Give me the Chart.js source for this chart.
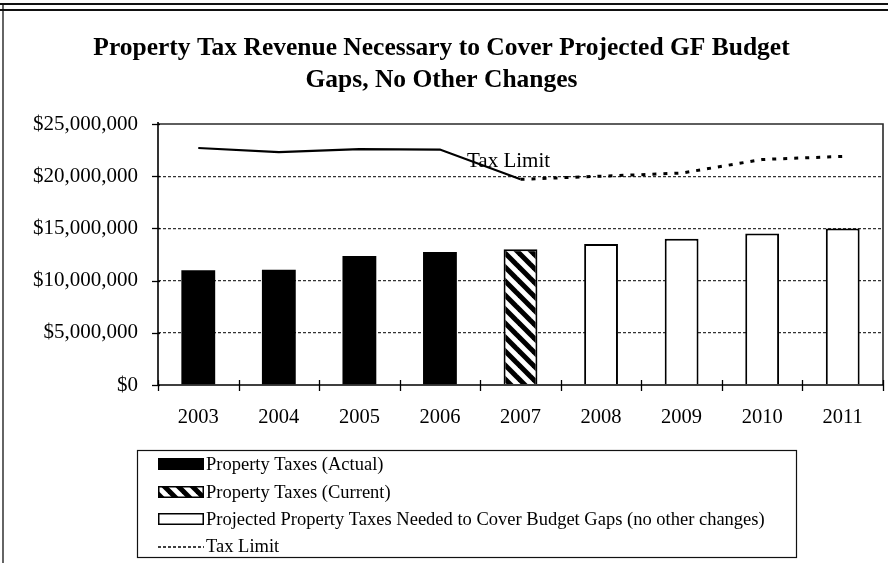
<!DOCTYPE html>
<html>
<head>
<meta charset="utf-8">
<script src="https://cdn.jsdelivr.net/npm/chart.js@4.4.1/dist/chart.umd.min.js"></script>
<style>
  html, body { margin: 0; padding: 0; background: #fff; }
  #wrap { width: 888px; height: 563px; position: relative; }
  canvas { display: block; }
</style>
</head>
<body>
<div id="wrap"><canvas id="chart" width="888" height="563"></canvas></div>
<script>
// Fiscal years on the category axis
const years = ['2003', '2004', '2005', '2006', '2007', '2008', '2009', '2010', '2011'];

// Property tax revenue, dollars
const actualTaxes    = [11000000, 11050000, 12350000, 12750000, null, null, null, null, null];
const currentTaxes   = [null, null, null, null, 13000000, null, null, null, null];
const projectedTaxes = [null, null, null, null, null, 13500000, 14000000, 14500000, 15000000];

// Statutory property tax limit, dollars
const taxLimit = [22700000, 22300000, 22600000, 22550000, 19700000, 20000000, 20300000, 21600000, 21900000];

// Value axis ticks
const yTicks = [0, 5000000, 10000000, 15000000, 20000000, 25000000];

const titleLines = ['Property Tax Revenue Necessary to Cover Projected GF Budget', 'Gaps, No Other Changes'];
const legendLabels = [
  'Property Taxes (Actual)',
  'Property Taxes (Current)',
  'Projected Property Taxes Needed to Cover Budget Gaps (no other changes)',
  'Tax Limit'
];
const lineLabel = 'Tax Limit';

const SERIF = '"Liberation Serif", "Times New Roman", serif';

// Diagonal hatch used for the current-year bar
function makeHatch() {
  const s = 14;
  const c = document.createElement('canvas');
  c.width = s; c.height = s;
  const g = c.getContext('2d');
  g.fillStyle = '#fff';
  g.fillRect(0, 0, s, s);
  g.strokeStyle = '#000';
  g.lineWidth = 5;
  g.lineCap = 'square';
  for (let k = -1; k <= 1; k++) {
    g.beginPath();
    g.moveTo(k * s - 2, -2);
    g.lineTo(k * s + s + 2, s + 2);
    g.stroke();
  }
  return g.createPattern(c, 'repeat');
}
const canvas = document.getElementById('chart');
const hatch = makeHatch();

// Frame, crossing tick marks, line label, legend box and page rules
const decorations = {
  id: 'decorations',
  afterDraw(chart) {
    const ctx = chart.ctx;
    const a = chart.chartArea;
    const ys = chart.scales.y;
    ctx.save();

    // plot frame: dark top/right, black axes left/bottom
    ctx.lineCap = 'butt';
    ctx.strokeStyle = '#2a2a2a';
    ctx.lineWidth = 1.6;
    ctx.beginPath();
    ctx.moveTo(a.left, a.top); ctx.lineTo(a.right, a.top); ctx.lineTo(a.right, a.bottom);
    ctx.stroke();
    ctx.strokeStyle = '#000';
    ctx.lineWidth = 1.6;
    ctx.beginPath();
    ctx.moveTo(a.left, a.top - 2); ctx.lineTo(a.left, a.bottom); ctx.lineTo(a.right, a.bottom);
    ctx.stroke();

    // category boundary ticks on the x axis
    ctx.lineWidth = 1.3;
    const n = years.length;
    for (let i = 0; i <= n; i++) {
      const x = Math.round(a.left + (a.right - a.left) * i / n) + 0.5;
      ctx.beginPath();
      ctx.moveTo(x, a.bottom - 5); ctx.lineTo(x, a.bottom + 6);
      ctx.stroke();
    }
    // value ticks on the y axis
    yTicks.forEach(v => {
      const y = Math.round(ys.getPixelForValue(v)) + 0.5;
      ctx.beginPath();
      ctx.moveTo(a.left - 6, y); ctx.lineTo(a.left + 2, y);
      ctx.stroke();
    });

    // label on the tax limit line, next to the 2007 point
    const lineMeta = chart.getDatasetMeta(3);
    const p = lineMeta.data[4];
    ctx.fillStyle = '#000';
    ctx.font = '21px ' + SERIF;
    ctx.textAlign = 'center';
    ctx.textBaseline = 'middle';
    ctx.fillText(lineLabel, p.x - 12, p.y - 18);

    // legend box
    const box = { l: 137.5, t: 450.5, r: 796.5, b: 557.5 };
    ctx.strokeStyle = '#111';
    ctx.lineWidth = 1.2;
    ctx.strokeRect(box.l, box.t, box.r - box.l, box.b - box.t);
    const rowY = [464, 492, 519, 546];
    const sx = 158, sw = 46, sh = 12;
    ctx.font = '18.5px ' + SERIF;
    ctx.textAlign = 'left';
    ctx.textBaseline = 'middle';
    chart.data.datasets.forEach((ds, i) => {
      const y = rowY[i];
      if (ds.type === 'line') {
        ctx.strokeStyle = '#000';
        ctx.lineWidth = 1.5;
        ctx.setLineDash([3, 2]);
        ctx.beginPath();
        ctx.moveTo(sx, y + 1); ctx.lineTo(sx + sw, y + 1);
        ctx.stroke();
        ctx.setLineDash([]);
      } else {
        ctx.fillStyle = ds.backgroundColor;
        ctx.fillRect(sx, y - sh / 2, sw, sh);
        ctx.strokeStyle = '#000';
        ctx.lineWidth = 1.5;
        ctx.strokeRect(sx + 0.75, y - sh / 2 + 0.75, sw - 1.5, sh - 1.5);
      }
      ctx.fillStyle = '#000';
      ctx.fillText(ds.label, 206, y + 1);
    });

    // page rules around the figure
    ctx.strokeStyle = '#111';
    ctx.lineWidth = 2;
    ctx.beginPath();
    ctx.moveTo(0, 4); ctx.lineTo(888, 4);
    ctx.moveTo(0, 10); ctx.lineTo(888, 10);
    ctx.stroke();
    ctx.lineWidth = 1.3;
    ctx.beginPath();
    ctx.moveTo(3, 4); ctx.lineTo(3, 563);
    ctx.stroke();

    ctx.restore();
  }
};

new Chart(canvas, {
  data: {
    labels: years,
    datasets: [
      {
        type: 'bar', label: legendLabels[0], data: actualTaxes,
        backgroundColor: '#000', borderColor: '#000', borderWidth: 0, order: 2
      },
      {
        type: 'bar', label: legendLabels[1], data: currentTaxes,
        backgroundColor: hatch, borderColor: '#000', borderWidth: 2, order: 2
      },
      {
        type: 'bar', label: legendLabels[2], data: projectedTaxes,
        backgroundColor: '#fff', borderColor: '#000', borderWidth: 2, order: 2
      },
      {
        type: 'line', label: legendLabels[3], data: taxLimit,
        borderColor: '#000', borderWidth: 2.2, pointRadius: 0, tension: 0,
        fill: false, order: 1,
        segment: {
          borderDash: c => c.p0DataIndex >= 4 ? [4, 7] : undefined,
          borderWidth: c => c.p0DataIndex >= 4 ? 3 : 2.2
        }
      }
    ]
  },
  options: {
    responsive: false,
    animation: false,
    devicePixelRatio: 1,
    layout: { padding: { left: 0, right: 5, top: 0, bottom: 0 } },
    datasets: {
      bar: { grouped: false, barPercentage: 0.42, categoryPercentage: 1, skipNull: true }
    },
    plugins: {
      legend: { display: false },
      tooltip: { enabled: false },
      title: {
        display: true,
        text: titleLines,
        color: '#000',
        font: { family: SERIF, size: 25.5, weight: 'bold', lineHeight: 32 / 25.5 },
        padding: { top: 32, bottom: 28 }
      }
    },
    scales: {
      x: {
        grid: { display: false, drawTicks: false },
        border: { display: false },
        ticks: { color: '#000', font: { family: SERIF, size: 20.5 }, padding: 20 },
        afterFit(scale) { scale.height = 178; }
      },
      y: {
        min: 0, max: 25000000,
        afterBuildTicks(scale) { scale.ticks = yTicks.map(v => ({ value: v })); },
        ticks: {
          color: '#000',
          font: { family: SERIF, size: 21 },
          padding: 20,
          callback: v => '$' + Number(v).toLocaleString('en-US')
        },
        grid: {
          drawTicks: false,
          lineWidth: 1.3,
          color: c => (c.tick && (c.tick.value === 0 || c.tick.value === 25000000)) ? 'rgba(0,0,0,0)' : '#333'
        },
        border: { display: false, dash: [3, 2] },
        afterFit(scale) { scale.width = 158; }
      }
    }
  },
  plugins: [decorations]
});
</script>
</body>
</html>
